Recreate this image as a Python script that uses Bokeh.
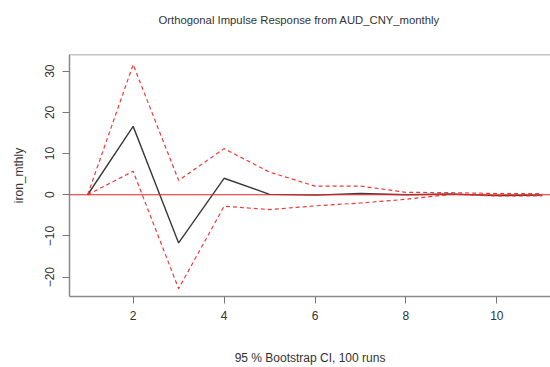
from bokeh.plotting import figure
from bokeh.models import Range1d, Span, FixedTicker, Title
from bokeh.embed import file_html
from bokeh.resources import INLINE

# Data
horizon = [1, 2, 3, 4, 5, 6, 7, 8, 9, 10, 11]
irf = [0.0, 16.6, -11.7, 4.0, 0.1, -0.1, 0.3, 0.0, 0.2, -0.2, -0.1]
upper = [0.0, 31.6, 3.5, 11.2, 5.5, 2.1, 2.1, 0.6, 0.5, 0.3, 0.3]
lower = [0.0, 5.7, -22.8, -2.8, -3.6, -2.7, -2.0, -1.1, 0.1, -0.3, -0.3]
x_ticks = [2, 4, 6, 8, 10]
y_ticks = [-20, -10, 0, 10, 20, 30]

title = "Orthogonal Impulse Response from AUD_CNY_monthly"
xlabel = "95 % Bootstrap CI, 100 runs"
ylabel = "iron_mthly"

FONT = "Liberation Sans"
BOX = "#8a8a8a"
TXT = "#333333"

p = figure(width=550, height=367, output_backend="svg", toolbar_location=None,
           x_range=Range1d(0.6, 11.18), y_range=Range1d(-24.7, 34.05),
           min_border_left=69, min_border_right=0, min_border_top=54,
           min_border_bottom=71)

# spacer between the frame and the title (blank), then the title itself
p.add_layout(Title(text=" ", text_font=FONT, text_font_size="12px", standoff=12), "above")
p.add_layout(Title(text=title, text_font=FONT, text_font_size="11.3px",
                   text_font_style="normal", text_color=TXT, align="left",
                   offset=89, vertical_align="middle", standoff=0), "above")

p.xgrid.visible = False
p.ygrid.visible = False
p.outline_line_color = None
p.background_fill_color = "white"
p.border_fill_color = "white"

xa = p.below[0]
ya = p.left[0]

for ax in (xa, ya):
    ax.axis_line_color = BOX
    ax.axis_line_width = 1.5
    ax.major_tick_line_color = "#777777"
    ax.major_tick_line_width = 1
    ax.major_tick_out = 7
    ax.major_tick_in = 0
    ax.minor_tick_line_color = None
    ax.major_label_text_font = FONT
    ax.major_label_text_font_size = "12px"
    ax.major_label_text_color = TXT
    ax.axis_label_text_font = FONT
    ax.axis_label_text_font_size = "12px"
    ax.axis_label_text_font_style = "normal"
    ax.axis_label_text_color = TXT

xa.ticker = FixedTicker(ticks=x_ticks)
ya.ticker = FixedTicker(ticks=y_ticks)
ya.major_label_orientation = "vertical"
xa.axis_label = xlabel
ya.axis_label = ylabel
xa.major_label_standoff = 7
xa.axis_label_standoff = 28
ya.major_label_standoff = 8
ya.axis_label_standoff = 17

# top edge of the plot box (right edge is cut off in the reference)
p.add_layout(Span(location=p.y_range.end, dimension="width",
                  line_color=BOX, line_width=1.5))

p.line(horizon, irf, line_color="#3a3a3a", line_width=1.4)
p.line(horizon, upper, line_color="#ee3a3a", line_width=1.2, line_dash="4 3")
p.line(horizon, lower, line_color="#ee3a3a", line_width=1.2, line_dash="4 3")
p.add_layout(Span(location=0, dimension="width", line_color="#ee2222", line_width=1.1))

open("out.html", "w").write(file_html(p, INLINE))
